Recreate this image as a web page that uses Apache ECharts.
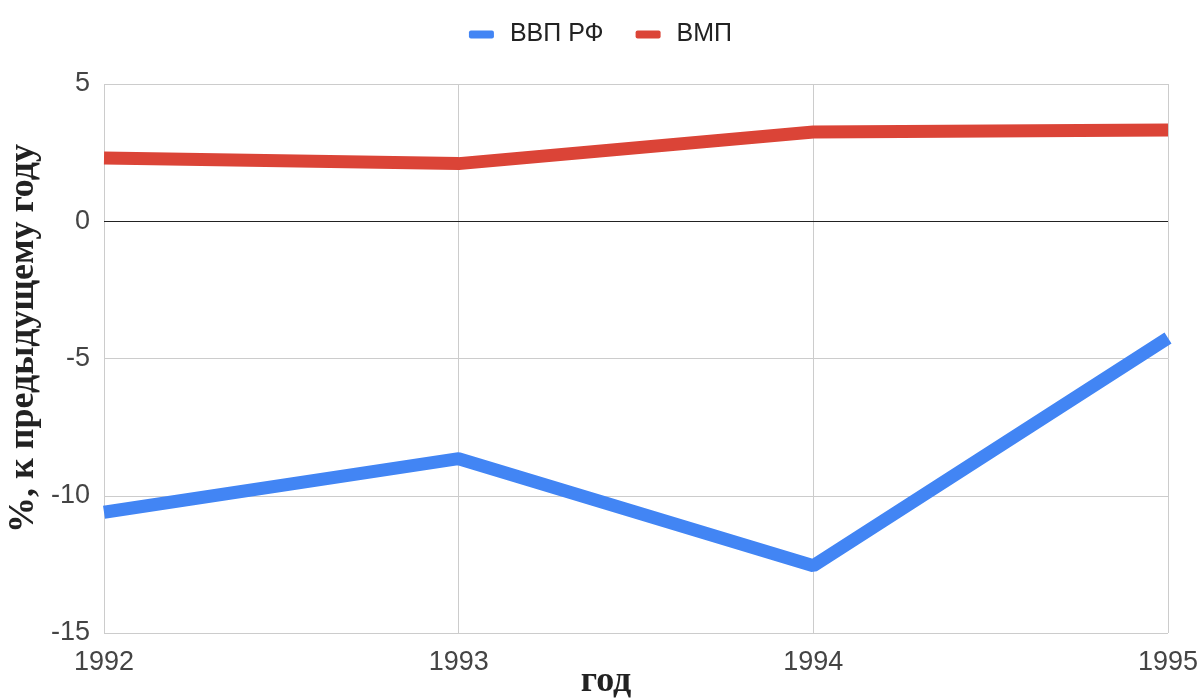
<!DOCTYPE html>
<html>
<head>
<meta charset="utf-8">
<script src="https://cdn.jsdelivr.net/npm/echarts@6/dist/echarts.min.js"></script>
<style>
  html, body { margin: 0; padding: 0; background: #fff; }
  #main { width: 1201px; height: 698px; }
</style>
</head>
<body>
<div id="main"></div>
<script>
// данные
var years = ['1992', '1993', '1994', '1995'];
var gdpRF = [-10.6, -8.65, -12.55, -4.25];
var worldGdp = [2.3, 2.1, 3.25, 3.32];
var seriesNames = ['ВВП РФ', 'ВМП'];

var myChart = echarts.init(document.getElementById('main'));
var option = {
  backgroundColor: '#fff',
  animation: false,
  // легенда
  legend: {
    top: 17,
    left: 'center',
    itemWidth: 25,
    itemHeight: 8,
    itemGap: 32,
    icon: 'roundRect',
    textStyle: {
      fontFamily: 'Liberation Sans, Arial',
      fontSize: 25,
      color: '#222',
      padding: [0, 0, 0, 11]
    },
    data: seriesNames
  },
  grid: {
    left: 104,
    right: 33,
    top: 84,
    bottom: 65,
    outerBoundsMode: 'none',
    containLabel: false
  },
  xAxis: {
    type: 'category',
    data: years,
    boundaryGap: false,
    name: 'год',
    nameLocation: 'middle',
    nameGap: 31,
    nameMoveOverlap: false,
    nameTextStyle: {
      fontFamily: 'Liberation Serif, Times New Roman',
      fontSize: 36,
      fontWeight: 'bold',
      color: '#222',
      padding: [0, 60, 0, 0]
    },
    axisLine: { show: false },
    axisTick: { show: false },
    axisLabel: {
      margin: 16,
      fontFamily: 'Liberation Sans, Arial',
      fontSize: 27,
      color: '#444'
    },
    splitLine: {
      show: true,
      lineStyle: { color: '#ccc', width: 1 }
    }
  },
  yAxis: {
    type: 'value',
    min: -15,
    max: 5,
    interval: 5,
    name: '%, к предыдущему году',
    nameLocation: 'middle',
    nameGap: 62,
    nameMoveOverlap: false,
    nameTextStyle: {
      fontFamily: 'Liberation Serif, Times New Roman',
      fontSize: 36,
      fontWeight: 'bold',
      color: '#222',
      padding: [0, 0, 0, 40]
    },
    axisLine: { show: false },
    axisTick: { show: false },
    axisLabel: {
      margin: 14,
      fontFamily: 'Liberation Sans, Arial',
      fontSize: 27,
      color: '#444'
    },
    splitLine: {
      lineStyle: { color: '#ccc', width: 1 }
    }
  },
  series: [
    {
      name: seriesNames[0],
      type: 'line',
      data: gdpRF,
      color: '#4285f4',
      symbol: 'none',
      lineStyle: { width: 13, color: '#4285f4' },
      markLine: {
        silent: true,
        symbol: 'none',
        label: { show: false },
        lineStyle: { color: '#222', width: 1, type: 'solid' },
        data: [{ yAxis: 0 }]
      }
    },
    {
      name: seriesNames[1],
      type: 'line',
      data: worldGdp,
      color: '#db4437',
      symbol: 'none',
      lineStyle: { width: 13, color: '#db4437' }
    }
  ]
};
myChart.setOption(option);
</script>
</body>
</html>
